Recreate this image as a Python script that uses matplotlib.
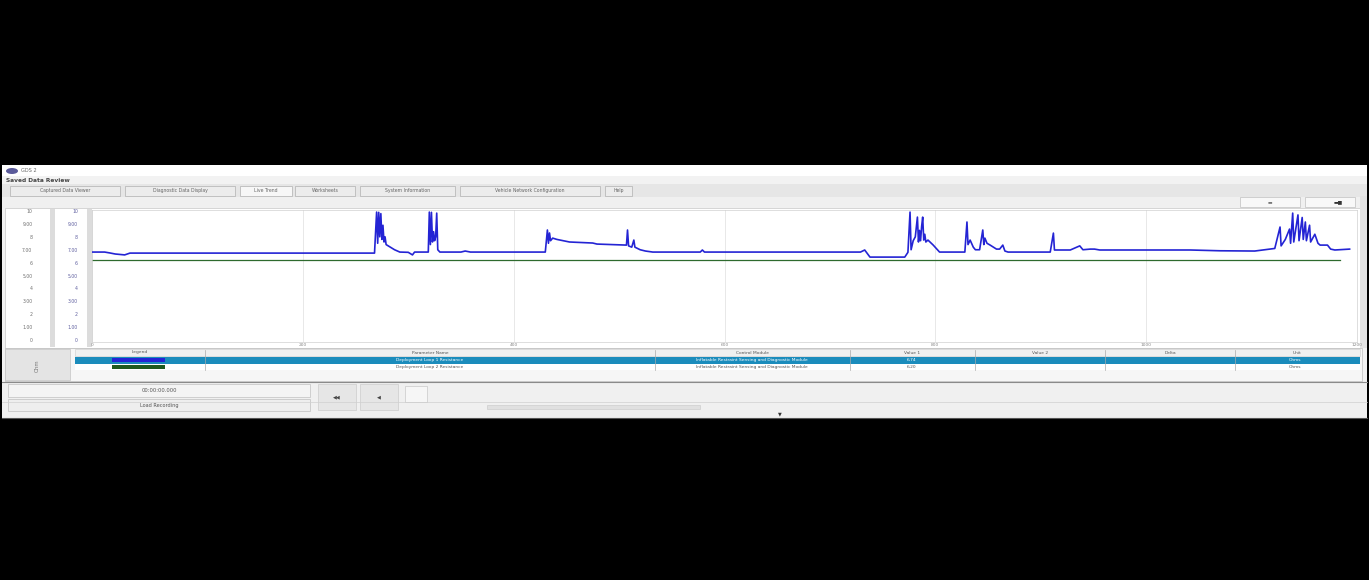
import matplotlib
matplotlib.use("Agg")
import matplotlib.pyplot as plt
from matplotlib.patches import Rectangle, Ellipse

# ---- data ----
# deployment loop 1 resistance, time in s, value in ohms
loop1_t = [0, 12, 17, 22, 31, 36, 268, 270, 271, 272, 273, 274, 275, 276, 277, 278, 279, 283,
           287, 292, 300, 304, 306, 319, 320, 321, 322, 323, 324, 325, 326, 327, 328, 330,
           350, 354, 359, 430, 432, 433, 434, 435, 437, 441, 453, 475, 479, 507, 508, 509,
           512, 514, 515, 520, 525, 532, 577, 579, 581, 729, 733, 738, 771, 774, 776, 777,
           779, 781, 783, 784, 785, 786, 787, 788, 789, 790, 791, 793, 798, 804, 828, 830,
           831, 833, 836, 838, 842, 845, 846, 847, 849, 852, 858, 861, 864, 866, 869, 909,
           912, 913, 928, 937, 940, 947, 951, 956, 1042, 1070, 1103, 1122, 1127, 1128,
           1132, 1136, 1137, 1139, 1140, 1144, 1145, 1148, 1149, 1151, 1152, 1155, 1156,
           1160, 1163, 1165, 1172, 1175, 1179, 1193]
loop1_v = [6.82, 6.82, 6.75, 6.67, 6.60, 6.74, 6.74, 9.92, 7.50, 9.90, 8.00, 9.80, 7.80, 8.90,
           7.60, 8.00, 7.40, 7.20, 7.00, 6.82, 6.80, 6.60, 6.82, 6.82, 9.92, 7.40, 9.90,
           7.60, 8.40, 7.70, 8.00, 9.84, 7.00, 6.82, 6.82, 6.90, 6.82, 6.82, 8.53, 7.50,
           8.30, 7.70, 7.90, 7.80, 7.60, 7.52, 7.44, 7.36, 8.53, 7.30, 7.20, 7.75, 7.20,
           7.00, 6.90, 6.82, 6.82, 6.98, 6.82, 6.82, 6.98, 6.43, 6.43, 6.80, 9.92, 7.00,
           7.70, 8.00, 9.53, 7.60, 8.50, 7.70, 8.80, 9.53, 7.75, 8.20, 7.60, 7.75, 7.36,
           6.82, 6.82, 9.15, 7.40, 7.75, 7.20, 7.00, 7.00, 8.53, 7.40, 7.90, 7.50, 7.36,
           7.05, 7.05, 7.36, 6.90, 6.82, 6.82, 8.29, 6.98, 6.98, 7.30, 7.00, 7.05, 7.05,
           6.98, 6.98, 6.92, 6.90, 7.10, 8.76, 7.30, 7.80, 8.60, 7.50, 9.84, 7.60, 9.70,
           7.70, 9.50, 7.80, 9.15, 7.70, 8.90, 7.60, 8.20, 7.50, 7.36, 7.36, 7.05, 6.98,
           7.05]
# deployment loop 2 resistance (flat)
loop2_t = [0, 1184]
loop2_v = [6.20, 6.20]

y_ticks = [0, 1, 2, 3, 4, 5, 6, 7, 8, 9, 10]
y_labels = ["0", "1.00", "2", "3.00", "4", "5.00", "6", "7.00", "8", "9.00", "10"]
x_ticks = [0, 200, 400, 600, 800, 1000, 1200]
x_labels = ["0", "200", "400", "600", "800", "1000", "1200"]

tabs = ["Captured Data Viewer", "Diagnostic Data Display", "Live Trend", "Worksheets",
        "System Information", "Vehicle Network Configuration", "Help"]
tab_x = [(10, 120), (125, 235), (240, 292), (295, 355), (360, 455), (460, 600), (605, 632)]

headers = ["Legend", "Parameter Name", "Control Module", "Value 1", "Value 2", "Delta", "Unit"]
row_names = ["Deployment Loop 1 Resistance", "Deployment Loop 2 Resistance"]
row_module = ["Inflatable Restraint Sensing and Diagnostic Module",
              "Inflatable Restraint Sensing and Diagnostic Module"]
row_value1 = ["6.74", "6.20"]
row_unit = ["Ohms", "Ohms"]

BLUE = "#2424d4"
GREEN = "#2e6a2e"
W, H = 1369, 580

fig = plt.figure(figsize=(W / 100, H / 100), dpi=100, facecolor="black")

# ---- background "window" drawn in pixel coords ----
ui = fig.add_axes([0, 0, 1, 1])
ui.set_xlim(0, W)
ui.set_ylim(H, 0)
ui.axis("off")
ui.set_facecolor("black")


def box(x0, y0, x1, y1, fc, ec="none", lw=0.6, z=1):
    ui.add_patch(Rectangle((x0, y0), x1 - x0, y1 - y0, facecolor=fc, edgecolor=ec, linewidth=lw, zorder=z))


def txt(x, y, s, size=3.6, color="#555555", ha="center", **kw):
    ui.text(x, y, s, fontsize=size, color=color, ha=ha, va="center", zorder=5, **kw)


box(2, 165, 1367, 418, "#f2f2f2")
# title bar
box(2, 165, 1367, 176, "white")
ui.add_patch(Ellipse((12, 171), 12, 6, facecolor="#5a5a9a", edgecolor="none", zorder=3))
txt(21, 171, "GDS 2", size=3.6, color="#666666", ha="left")
txt(6, 180.5, "Saved Data Review", size=4.2, color="#444444", ha="left", fontweight="bold")
# tab strip
box(2, 184, 1367, 197, "#e6e6e6")
for (a, b), name in zip(tab_x, tabs):
    box(a, 185.5, b, 196, "#f7f7f7" if name == "Live Trend" else "#ececec", ec="#b0b0b0", lw=0.5, z=2)
    txt((a + b) / 2, 190.8, name, size=3.3, color="#666666")
# toolbar
box(2, 197, 1367, 208, "#f0f0f0")
box(1240, 197, 1300, 207, "#f8f8f8", ec="#c0c0c0", lw=0.5, z=2)
box(1305, 197, 1355, 207, "#f8f8f8", ec="#c0c0c0", lw=0.5, z=2)
txt(1270, 202, "▬", size=3.5, color="#777777")
txt(1338, 202, "▬■", size=3.5, color="#333333")
# chart panel
box(5, 208, 1360, 348, "white", ec="#c8c8c8", lw=0.5)
box(50, 209, 55, 347, "#dcdcdc")
box(87, 209, 92, 347, "#dcdcdc")
box(1360, 196, 1367, 348, "#e2e2e2")
# legend table
box(5, 348, 1362, 381, "#f6f6f6", ec="#bcbcbc", lw=0.5)
box(5, 349, 70, 380, "#e4e4e4", ec="#c4c4c4", lw=0.5, z=2)
txt(37, 366, "Ohm", size=3.8, color="#777777", rotation=90)
box(75, 349, 1360, 356, "#f0f0f0", ec="#cccccc", lw=0.4, z=2)
box(75, 357, 1360, 363.5, "#1b8cbc", z=2)
box(75, 364, 1360, 370, "white", z=2)
col_edges = [75, 205, 655, 850, 975, 1105, 1235, 1360]
for i, h in enumerate(headers):
    txt((col_edges[i] + col_edges[i + 1]) / 2, 352.5, h, size=3.2)
for xe in col_edges[1:-1]:
    ui.plot([xe, xe], [350, 370], color="#aaaaaa", lw=0.5, zorder=3)
for r in range(2):
    yc = 360.2 + r * 6.8
    tc = "white" if r == 0 else "#555555"
    box(112, yc - 2, 165, yc + 2, BLUE if r == 0 else "#1f5a1f", z=3)
    txt(430, yc, row_names[r], size=3.2, color=tc)
    txt(752, yc, row_module[r], size=3.2, color=tc)
    txt(912, yc, row_value1[r], size=3.2, color=tc)
    txt(1295, yc, row_unit[r], size=3.2, color=tc)
ui.plot([2, 1367], [381.5, 381.5], color="#8a8a8a", lw=0.8, zorder=3)
# bottom controls
box(2, 382, 1367, 418, "#f0f0f0")
box(8, 384, 310, 397, "#f4f4f4", ec="#c0c0c0", lw=0.5, z=2)
txt(159, 390.5, "00:00:00.000", size=3.8, color="#555555")
box(8, 399, 310, 411, "#eeeeee", ec="#c0c0c0", lw=0.5, z=2)
txt(159, 405, "Load Recording", size=3.6, color="#555555")
box(318, 384, 356, 410, "#e6e6e6", ec="#cccccc", lw=0.5, z=2)
box(360, 384, 398, 410, "#e6e6e6", ec="#cccccc", lw=0.5, z=2)
txt(337, 397, "◀◀", size=3.6, color="#444444")
txt(379, 397, "◀", size=3.6, color="#444444")
box(405, 386, 427, 402, "#f6f6f6", ec="#c8c8c8", lw=0.5, z=2)
box(487, 405, 700, 409, "#e0e0e0", ec="#c8c8c8", lw=0.4, z=2)
ui.plot([2, 1367], [402, 402], color="#d0d0d0", lw=0.5, zorder=2)
txt(780, 414, "▼", size=3.5, color="#333333")
ui.plot([2, 1367], [418, 418], color="#555555", lw=0.8, zorder=3)

# ---- the trend chart ----
ax = fig.add_axes([92 / W, 1 - 342 / H, 1265 / W, 132 / H])
ax.set_facecolor("white")
ax.plot(loop2_t, loop2_v, color=GREEN, lw=0.9, zorder=2)
ax.plot(loop1_t, loop1_v, color=BLUE, lw=1.2, zorder=3)
ax.set_xlim(0, 1200)
ax.set_ylim(-0.15, 10.08)
ax.set_xticks(x_ticks)
ax.set_xticklabels(x_labels, fontsize=3.2, color="#888888")
ax.set_yticks(y_ticks)
ax.set_yticklabels(y_labels, fontsize=3.3, color="#6060a0")
ax.tick_params(axis="both", length=0, pad=1)
ax.tick_params(axis="y", pad=10)
ax.grid(axis="x", color="#e4e4e4", lw=0.6)
for s in ax.spines.values():
    s.set_color("#d0d0d0")
    s.set_linewidth(0.5)

sec = ax.secondary_yaxis(-0.046)
sec.set_yticks(y_ticks)
sec.set_yticklabels(y_labels, fontsize=3.3, color="#707070")
sec.tick_params(length=0, pad=1)
sec.spines["left"].set_visible(False)

fig.savefig("out.png", dpi=100, facecolor="black")
